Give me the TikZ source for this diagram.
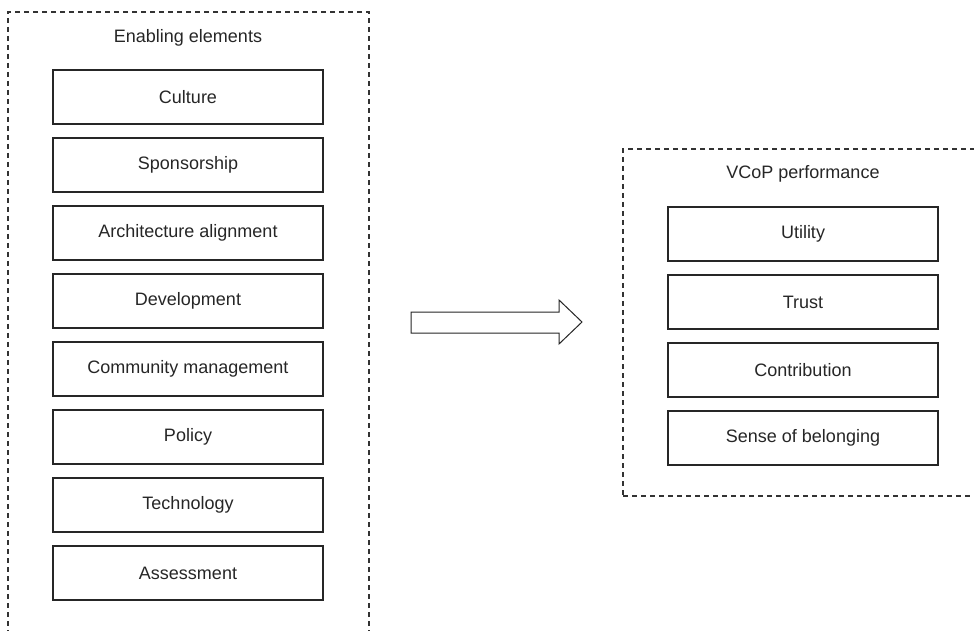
\documentclass[tikz,border=0pt]{standalone}
\usepackage{fontspec}
\setmainfont{Liberation Sans}
\begin{document}
\begin{tikzpicture}[x=1pt,y=-1pt,
  item/.style={draw=black!85, line width=1.2pt, rectangle, minimum width=270pt, minimum height=54pt, inner sep=0pt, text=black!85, font=\fontsize{18}{20}\selectfont},
  container/.style={draw=black!80, line width=1.1pt, dash pattern=on 5pt off 4pt, rectangle, inner sep=0pt},
  heading/.style={text=black!85, font=\fontsize{18}{20}\selectfont, inner sep=0pt}]
\path[use as bounding box] (0,0) rectangle (974,631);
\clip (0,0) rectangle (974,631);
% left container
\node[container, minimum width=361pt, minimum height=640pt] (left) at (188.5,332) {};
\node[heading] (lt) at (188,38) {Enabling elements};
\node[item] (e1) at (188,97) {Culture};
\node[item] (e2) at (188,165) {Sponsorship};
\node[item] (e3) at (188,233) {Architecture alignment};
\node[item] (e4) at (188,301) {Development};
\node[item] (e5) at (188,369) {Community management};
\node[item] (e6) at (188,437) {Policy};
\node[item] (e7) at (188,505) {Technology};
\node[item] (e8) at (188,573) {Assessment};
% right container
\node[container, minimum width=367pt, minimum height=347pt] (right) at (806.5,322.5) {};
\node[heading] (rt) at (803,174) {VCoP performance};
\node[item] (p1) at (803,234) {Utility};
\node[item] (p2) at (803,302) {Trust};
\node[item] (p3) at (803,370) {Contribution};
\node[item] (p4) at (803,438) {Sense of belonging};
% block arrow
\draw[draw=black!85, line width=1pt, fill=white, line join=miter]
  (411,312) -- (559,312) -- (559,300) -- (582,322) -- (559,344) -- (559,333) -- (411,333) -- cycle;
\end{tikzpicture}
\end{document}
